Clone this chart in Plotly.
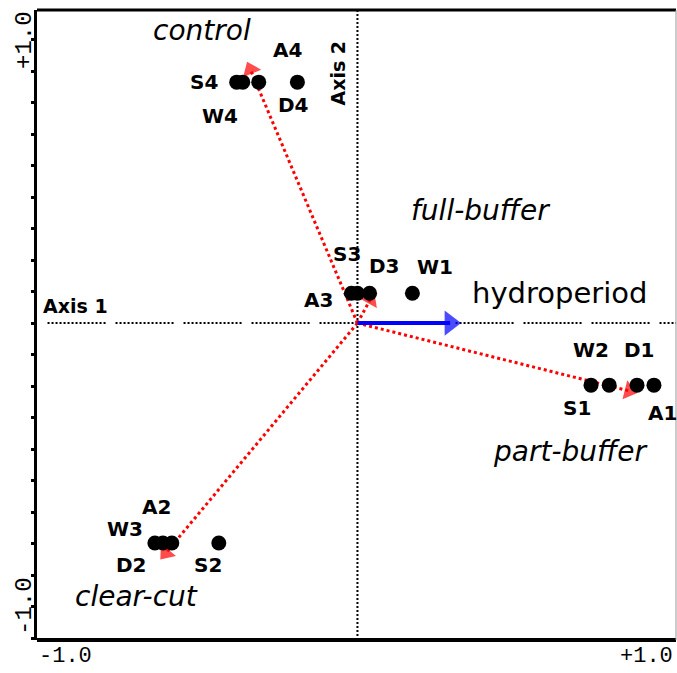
import plotly.graph_objects as go

# ---- data ----
site_labels = ["S4", "W4", "A4", "D4",
               "A3", "S3", "D3", "W1",
               "S1", "W2", "D1", "A1",
               "W3", "A2", "D2", "S2"]
site_x = [-0.378, -0.359, -0.309, -0.188,
          -0.019, 0.000, 0.038, 0.172,
          0.731, 0.788, 0.875, 0.928,
          -0.634, -0.609, -0.581, -0.434]
site_y = [0.765, 0.765, 0.765, 0.765,
          0.095, 0.095, 0.095, 0.095,
          -0.197, -0.197, -0.197, -0.197,
          -0.698, -0.698, -0.698, -0.698]

groups = ["control", "full-buffer", "part-buffer", "clear-cut"]
centroid_x = [-0.335, 0.04, 0.85, -0.60]
centroid_y = [0.805, 0.075, -0.215, -0.73]

env_name = "hydroperiod"
env_x = 0.29
env_y = 0.0

# label offsets (px) for site labels
label_dx = [-33, -23, 29, -4,
            -33, -10, 15, 23,
            -14, -18, 2, 9,
            -30, -6, -40, -11]
label_dy = [0, -34, 32, -23,
            -7, 39, 27, 26,
            -23, 35, 35, -28,
            14, 36, -22, -22]

SANS = "DejaVu Sans, Verdana, sans-serif"
MONO = "Liberation Mono, Courier New, monospace"

# plot-area pixel geometry (for placing free texts)
L, R, T, B = 37, 677, 10, 640


def px2paper(px, py):
    return (px - L) / (R - L), (B - py) / (B - T)


fig = go.Figure()

# axis reference dotted lines
hdash = ",".join(["2px,2px"] * 14) + ",2px,10px"
fig.add_trace(go.Scatter(x=[-0.97, 1.0], y=[0, 0], mode="lines",
                         line=dict(color="black", width=2, dash=hdash),
                         hoverinfo="skip", showlegend=False))
fig.add_trace(go.Scatter(x=[0, 0], y=[-1.006, 0.994], mode="lines",
                         line=dict(color="black", width=2, dash="2px,2px"),
                         hoverinfo="skip", showlegend=False))

# red dotted centroid vectors with filled triangular heads
for gx, gy in zip(centroid_x, centroid_y):
    fig.add_trace(go.Scatter(x=[0, gx], y=[0, gy], mode="lines",
                             line=dict(color="#ff0000", width=3, dash="3px,3px"),
                             hoverinfo="skip", showlegend=False))
    fig.add_trace(go.Scatter(x=[0, gx], y=[0, gy], mode="markers",
                             marker=dict(symbol="triangle-up", size=[0, 17], color="#ff0000",
                                         angleref="previous", line=dict(width=0)),
                             hoverinfo="skip", showlegend=False))

# blue environmental vector
fig.add_trace(go.Scatter(x=[0, env_x], y=[0, env_y], mode="lines",
                         line=dict(color="#0000ff", width=4),
                         hoverinfo="skip", showlegend=False))
fig.add_trace(go.Scatter(x=[0, env_x], y=[0, env_y], mode="markers",
                         marker=dict(symbol="triangle-up", size=[0, 22], color="#0000ff",
                                     angleref="previous", line=dict(width=0)),
                         hoverinfo="skip", showlegend=False))

# site points
fig.add_trace(go.Scatter(x=site_x, y=site_y, mode="markers",
                         marker=dict(color="black", size=15, line=dict(width=0)),
                         showlegend=False))

annotations = []
for lab, x, y, dx, dy in zip(site_labels, site_x, site_y, label_dx, label_dy):
    annotations.append(dict(x=x, y=y, xref="x", yref="y", text=f"<b>{lab}</b>",
                            showarrow=False, xshift=dx, yshift=dy,
                            xanchor="center", yanchor="middle",
                            font=dict(family=SANS, size=20, color="black")))


def free_text(text, px, py, size, angle=0, family=SANS):
    xp, yp = px2paper(px, py)
    return dict(x=xp, y=yp, xref="paper", yref="paper", text=text,
                showarrow=False, textangle=angle,
                xanchor="center", yanchor="middle",
                font=dict(family=family, size=size, color="black"))


# group names (italic)
group_pos = {"control": (202, 31), "full-buffer": (481, 211),
             "part-buffer": (571, 452), "clear-cut": (137, 596)}
for g in groups:
    px, py = group_pos[g]
    annotations.append(free_text(f"<i>{g}</i>", px, py, 28))

annotations.append(free_text(env_name, 560, 293, 29))
annotations.append(free_text("<b>Axis 1</b>", 76, 306, 19))
annotations.append(free_text("<b>Axis 2</b>", 338, 73, 19, angle=-90))

# range labels
annotations += [
    free_text("-1.0", 66, 656, 22, family=MONO),
    free_text("+1.0", 647, 656, 22, family=MONO),
    free_text("+1.0", 24, 40, 24, angle=-90, family=MONO),
    free_text("-1.0", 24, 606, 24, angle=-90, family=MONO),
]

fig.update_layout(
    width=677, height=673,
    margin=dict(l=L, r=677 - R + 1, t=T, b=673 - B),
    paper_bgcolor="white", plot_bgcolor="white",
    showlegend=False,
    annotations=annotations,
    xaxis=dict(range=[-1.003, 0.997], showgrid=False, zeroline=False,
               showticklabels=False, ticks="", showline=False, fixedrange=True),
    yaxis=dict(range=[-1.006, 0.994], showgrid=False, zeroline=False,
               showticklabels=False, ticks="outside", ticklen=3, tickwidth=3,
               tickcolor="black", dtick=0.1, tick0=0,
               showline=True, linecolor="black", linewidth=3, fixedrange=True),
    shapes=[
        dict(type="line", xref="paper", yref="paper", x0=0, x1=1, y0=0, y1=0,
             line=dict(color="black", width=4)),
        dict(type="line", xref="paper", yref="paper", x0=0, x1=1, y0=1, y1=1,
             line=dict(color="black", width=3)),
        dict(type="line", xref="paper", yref="paper", x0=1, x1=1, y0=0, y1=1,
             line=dict(color="#999999", width=1)),
    ],
)

fig.write_html("out.html")
